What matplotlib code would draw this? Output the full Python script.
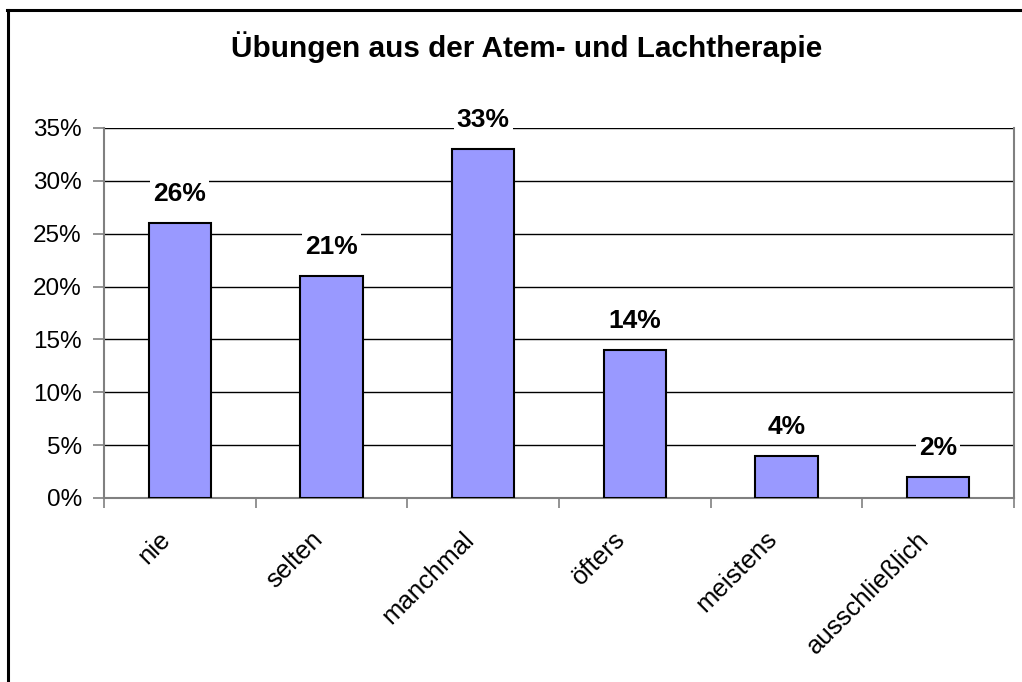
import matplotlib
matplotlib.use("Agg")
import matplotlib.pyplot as plt
from matplotlib.lines import Line2D
from matplotlib.ticker import FuncFormatter, MultipleLocator
from matplotlib.transforms import ScaledTranslation

categories = ["nie", "selten", "manchmal", "öfters", "meistens", "ausschließlich"]
values = [26, 21, 33, 14, 4, 2]
title = "Übungen aus der Atem- und Lachtherapie"

plt.rcParams["font.family"] = ["Liberation Sans", "DejaVu Sans"]

fig = plt.figure(figsize=(10.22, 6.82), dpi=100)
fig.patch.set_facecolor("white")

# frame lines of the chart area (top and left edges)
fig.add_artist(Line2D([7 / 1022, 1.0], [1 - 10 / 682, 1 - 10 / 682],
                      transform=fig.transFigure, color="black", lw=2.2))
fig.add_artist(Line2D([8 / 1022, 8 / 1022], [0.0, 1 - 10 / 682],
                      transform=fig.transFigure, color="black", lw=2.2))

ax = fig.add_axes([104 / 1022, 1 - 498 / 682, (1014 - 104) / 1022, (498 - 128) / 682])

x = list(range(len(categories)))
ax.bar(x, values, width=0.41, color="#9999FF", edgecolor="black", linewidth=1.5, zorder=3)

ax.set_xlim(-0.5, len(categories) - 0.5)
ax.set_ylim(0, 35)
ax.yaxis.set_major_locator(MultipleLocator(5))
ax.yaxis.set_major_formatter(FuncFormatter(lambda v, p: f"{int(v)}%"))
ax.grid(axis="y", color="black", linewidth=1.0, zorder=0)
ax.set_axisbelow(True)

for s in ["left", "bottom", "right"]:
    ax.spines[s].set_color("#808080")
    ax.spines[s].set_linewidth(1.5)
ax.spines["top"].set_visible(False)

ax.tick_params(axis="y", length=8, width=1.2, color="#808080", labelsize=17.5, pad=8)
ax.set_xticks([i - 0.5 for i in range(len(categories) + 1)], minor=False)
ax.set_xticklabels([])
ax.tick_params(axis="x", length=7, width=1.2, color="#808080")
ax.set_xticks(x, minor=True)
ax.set_xticklabels(categories, minor=True, rotation=45, ha="right", va="center",
                   rotation_mode="anchor", fontsize=18.5)
ax.tick_params(axis="x", which="minor", length=0, pad=27)
shift = ScaledTranslation(-13 / 100, 0, fig.dpi_scale_trans)
for lbl in ax.get_xticklabels(minor=True):
    lbl.set_transform(lbl.get_transform() + shift)

for xi, v in zip(x, values):
    ax.annotate(f"{v}%", (xi, v), xytext=(0, 21), textcoords="offset points",
                ha="center", va="center", fontsize=19, fontweight="bold",
                bbox=dict(facecolor="white", edgecolor="none", pad=2), zorder=4)

fig.text(527 / 1022, 1 - 47 / 682, title, ha="center", va="center",
         fontsize=21.4, fontweight="bold")

fig.savefig("out.png", dpi=100)
